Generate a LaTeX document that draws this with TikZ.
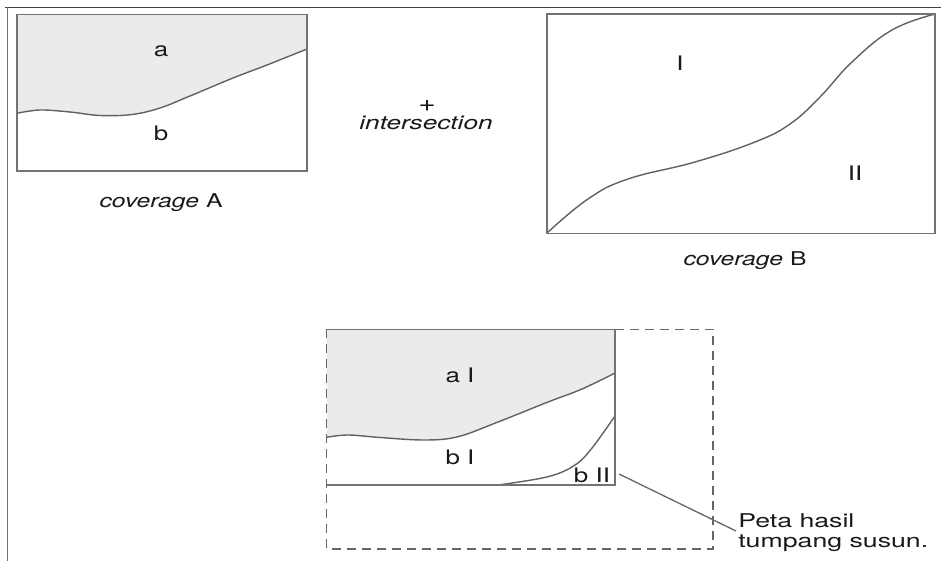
\documentclass[tikz,border=0pt]{standalone}
\usepackage{fontspec}
\setmainfont{TeX Gyre Heros}
\begin{document}
\begin{tikzpicture}[x=1pt,y=-1pt,
  frameline/.style={draw=black!75, line width=1.4pt},
  boxline/.style={draw=black!55, line width=1.6pt},
  curveline/.style={draw=black!62, line width=1.4pt},
  greyfill/.style={fill=black!8},
  dashbox/.style={draw=black!60, line width=1.4pt, dash pattern=on 9pt off 6pt},
  lbl/.style={font=\fontsize{20}{23}\selectfont, text=black!90, inner sep=0pt, xscale=1.3, transform shape},
  captext/.style={font=\fontsize{19}{21}\selectfont, text=black!90, inner sep=0pt, xscale=1.3, transform shape},
  leaderline/.style={draw=black!60, line width=1.3pt}]
\useasboundingbox (0,0) rectangle (941,561);
% outer frame lines
\draw[frameline] (5,7.3) -- (941,7.3);
\draw[frameline, draw=black!55] (7.5,7.3) -- (7.5,561);

% ---------- coverage A ----------
\fill[greyfill] (17,113.3) plot[smooth, tension=0.6] coordinates {(17,113.3) (40,110) (70,112) (100,115.5) (132,114.5) (160,108) (190,96) (233,78) (267,65) (307,49)} -- (307,14.7) -- (17,14.7) -- cycle;
\draw[curveline] plot[smooth, tension=0.6] coordinates {(17,113.3) (40,110) (70,112) (100,115.5) (132,114.5) (160,108) (190,96) (233,78) (267,65) (307,49)};
\draw[boxline] (17,14.7) rectangle (307,171);
\node[lbl] (la) at (161,51) {a};
\node[lbl] (lb) at (161,133) {b};
\node[captext] (capA) at (161,203) {\textit{coverage} A};

% ---------- operator ----------
\node[captext, font=\fontsize{23}{23}\selectfont] (plus) at (427,106) {\textit{+}};
\node[captext, xscale=1.06] (inter) at (426,123) {\textit{intersection}};

% ---------- coverage B ----------
\draw[curveline] plot[smooth, tension=0.7] coordinates {(546.7,233.3) (588,199) (628,179) (695,162) (755,142) (790,124) (820,97) (852,62) (892,30) (935,14)};
\draw[boxline] (546.7,14) rectangle (935,233.3);
\node[lbl] (lI) at (680,63) {I};
\node[lbl] (lII) at (855,173) {II};
\node[captext] (capB) at (745,261) {\textit{coverage} B};

% ---------- result ----------
\fill[greyfill] (326.7,437.3) plot[smooth, tension=0.6] coordinates {(326.7,437.3) (348,435) (380,437.5) (425,440) (458,436.7) (498,422) (548,402) (582,389) (615,373)} -- (615,329.3) -- (326.7,329.3) -- cycle;
\draw[curveline] plot[smooth, tension=0.6] coordinates {(326.7,437.3) (348,435) (380,437.5) (425,440) (458,436.7) (498,422) (548,402) (582,389) (615,373)};
\draw[curveline] plot[smooth, tension=0.6] coordinates {(498,485) (548,476.7) (575,465) (592,448) (615,416)};
\draw[dashbox] (326.7,329.3) rectangle (713,549);
\draw[boxline] (326.7,329.3) -- (615,329.3) -- (615,485) -- (326.7,485);
\node[lbl] (aI) at (460,375) {a I};
\node[lbl] (bI) at (460,457) {b I};
\node[lbl] (bII) at (592,475) {b II};
\node[captext, anchor=west, align=left, font=\fontsize{19}{20}\selectfont, xscale=1.08] (peta) at (738,533) {Peta hasil\\tumpang susun.};
\coordinate (lstart) at (619,474);
\coordinate (lend) at (736,531);
\draw[leaderline] (lstart) -- (lend);
\end{tikzpicture}
\end{document}
